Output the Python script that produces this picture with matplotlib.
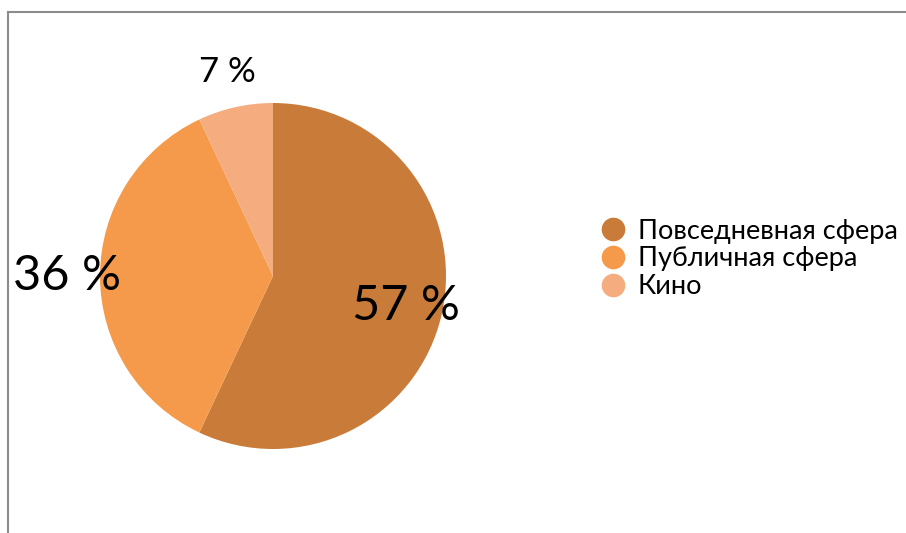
import numpy as np
import matplotlib.pyplot as plt
from matplotlib.lines import Line2D

plt.rcParams['font.family'] = ['Lato', 'DejaVu Sans']

categories = ["Повседневная сфера", "Публичная сфера", "Кино"]
values = [57, 36, 7]
colors = ["#C97B3A", "#F59A4A", "#F5AD7F"]

# per-label style
label_dist = [0.79, 1.19, 1.21]
label_size = [35, 35, 25]

fig = plt.figure(figsize=(9.06, 5.33), dpi=100)
ax = fig.add_axes([0, 0, 1, 1])

wedges, _ = ax.pie(values, colors=colors, startangle=90, counterclock=False,
                   center=(273, 257), radius=173, frame=True)
ax.set_xlim(0, 906)
ax.set_ylim(0, 533)
ax.set_aspect("equal")
ax.axis("off")

for w, v, d, s in zip(wedges, values, label_dist, label_size):
    ang = np.deg2rad((w.theta1 + w.theta2) / 2)
    x = w.center[0] + d * w.r * np.cos(ang)
    y = w.center[1] + d * w.r * np.sin(ang)
    ax.text(x, y, f"{v} %", fontsize=s, ha="center", va="center", color="black")

# frame lines
fig.add_artist(Line2D([8 / 906, 8 / 906], [0, 1 - 12 / 533], color="#8c8c8c", lw=1.5))
fig.add_artist(Line2D([8 / 906, 1], [1 - 12 / 533, 1 - 12 / 533], color="#8c8c8c", lw=1.5))

handles = [Line2D([], [], marker="o", ls="", markersize=16, color=c) for c in colors]
leg = ax.legend(handles, categories, loc="center left", bbox_to_anchor=(600 / 906, 1 - 259 / 533),
                frameon=False, fontsize=19.5, handletextpad=0.45, labelspacing=0.1,
                handlelength=0.95, borderaxespad=0, borderpad=0)

fig.savefig("out.png", dpi=100)
